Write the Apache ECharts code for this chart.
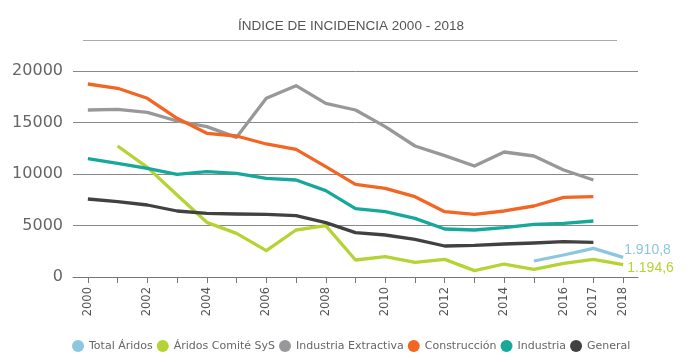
<!DOCTYPE html>
<html>
<head>
<meta charset="utf-8">
<script src="https://cdn.jsdelivr.net/npm/echarts@6/dist/echarts.min.js"></script>
<style>
html,body{margin:0;padding:0;background:#fff;}
#chart{width:689px;height:362px;}
</style>
</head>
<body>
<div id="chart"></div>
<script>
const years = ['2000','2001','2002','2003','2004','2005','2006','2007','2008','2009','2010','2011','2012','2013','2014','2015','2016','2017','2018'];
const labeledYears = ['2000','2002','2004','2006','2008','2010','2012','2014','2016','2017','2018'];
const totalAridos = [null,null,null,null,null,null,null,null,null,null,null,null,null,null,null,1553,2136,2783,1910.8];
const aridosComite = [null,12719,10647,7961,5307,4239,2557,4563,4984,1650,1974,1424,1715,615,1262,744,1327,1715,1194.6];
const industriaExtractiva = [16214,16279,15987,15146,14595,13560,17350,18575,16864,16214,14595,12719,11780,10777,12136,11748,10388,9418,null];
const construccion = [18738,18320,17350,15408,13950,13690,12913,12398,10712,8997,8608,7800,6343,6084,6408,6893,7735,7800,null];
const industria = [11488,11036,10550,9968,10227,10065,9580,9418,8382,6634,6343,5696,4660,4563,4790,5113,5210,5437,null];
const general = [7573,7314,6990,6408,6181,6117,6084,5955,5275,4304,4078,3656,3010,3074,3204,3301,3430,3366,null];
const yTicks = [0,5000,10000,15000,20000];

function fmtEs(v){
  const parts = Number(v).toFixed(1).split('.');
  const intp = parts[0].replace(/\B(?=(\d{3})+(?!\d))/g,'.');
  return intp + ',' + parts[1];
}

const chart = echarts.init(document.getElementById('chart'), null, {renderer:'canvas'});
const lineW = 3.3;
function mk(name, data, color, endOffset){
  const s = {name:name,type:'line',data:data,symbol:'none',showSymbol:false,connectNulls:false,
    lineStyle:{width:lineW,color:color,cap:'butt',join:'round'},itemStyle:{color:color},
    emphasis:{disabled:true},animation:false};
  if(endOffset){
    s.endLabel = {show:true,distance:1,offset:endOffset,color:color,fontSize:14,
      fontFamily:'Liberation Sans, Arial, sans-serif',
      formatter:(p)=>fmtEs(Array.isArray(p.value)?p.value[1]:p.value)};
  }
  return s;
}
const option = {
  animation:false,
  graphic:[
    {type:'text',x:351,y:26,style:{text:'ÍNDICE DE INCIDENCIA 2000 - 2018',fill:'#555',
      font:'13.5px "Liberation Sans", Arial, sans-serif',textAlign:'center',textVerticalAlign:'middle'}},
    {type:'line',shape:{x1:83,y1:40.5,x2:617,y2:40.5},style:{stroke:'#aaa',lineWidth:1}}
  ],
  grid:{left:73,right:51,top:71,bottom:85,containLabel:false},
  legend:{
    data:['Total Áridos','Áridos Comité SyS','Industria Extractiva','Construcción','Industria','General'],
    top:335,left:67,icon:'circle',itemWidth:12,itemHeight:12,itemGap:4,
    textStyle:{fontSize:11,color:'#666',fontFamily:'DejaVu Sans, sans-serif'}
  },
  xAxis:{
    type:'category',data:years,boundaryGap:true,
    axisLine:{lineStyle:{color:'#777',width:1}},
    axisTick:{show:true,alignWithLabel:true,interval:0,length:6,lineStyle:{color:'#777'}},
    axisLabel:{rotate:90,margin:10,fontSize:11.5,color:'#555',fontFamily:'DejaVu Sans, sans-serif',
      interval:(idx,val)=>labeledYears.indexOf(val)>=0}
  },
  yAxis:{
    type:'value',min:yTicks[0],max:yTicks[yTicks.length-1],interval:5000,
    axisLine:{show:false},axisTick:{show:false},
    splitLine:{lineStyle:{color:'#888',width:1}},
    axisLabel:{fontSize:16,color:'#666',margin:10,fontFamily:'DejaVu Sans, sans-serif',
      formatter:(v)=>String(v)}
  },
  series:[
    mk('Total Áridos', totalAridos, '#8cc6e0', [0,-7]),
    mk('Áridos Comité SyS', aridosComite, '#b5d334', [3,3]),
    mk('Industria Extractiva', industriaExtractiva, '#98989a'),
    mk('Construcción', construccion, '#f26522'),
    mk('Industria', industria, '#16a99b'),
    mk('General', general, '#414141')
  ]
};
chart.setOption(option);
</script>
</body>
</html>
